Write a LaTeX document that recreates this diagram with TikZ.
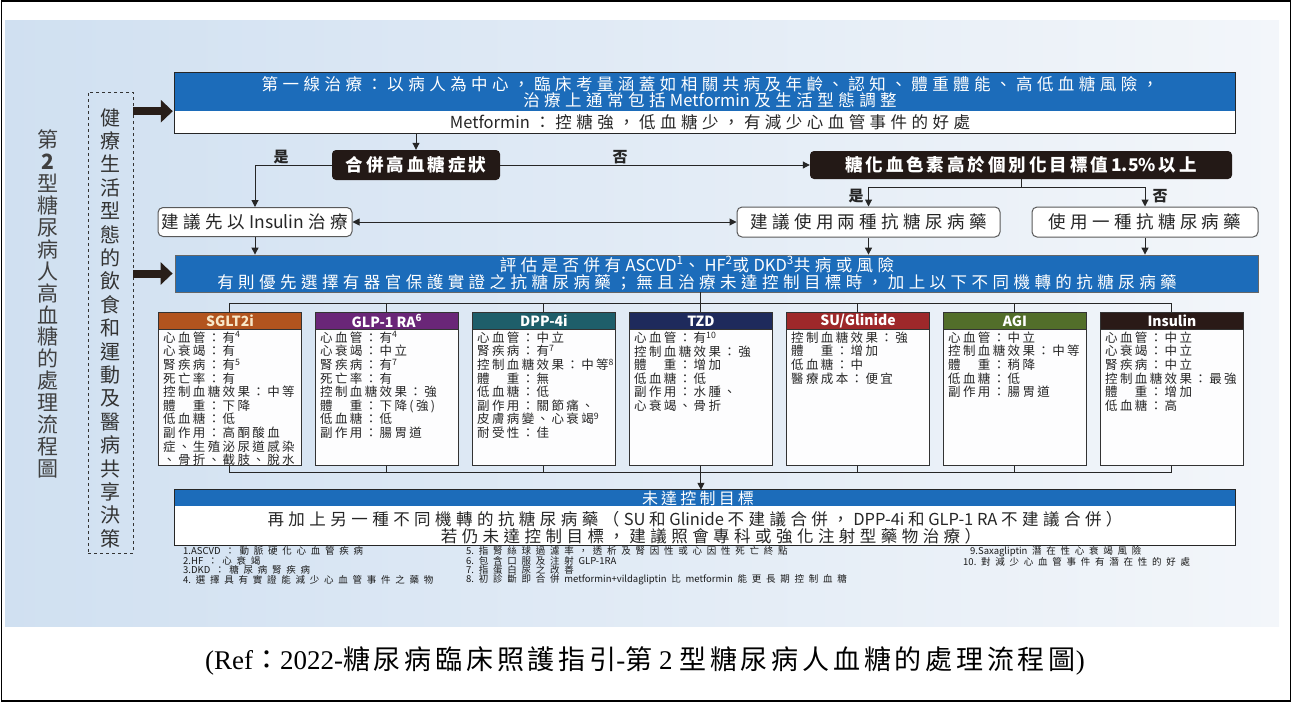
\documentclass[tikz,border=0pt]{standalone}
\usepackage{fontspec}
\setmainfont{Noto Sans CJK TC}
\newfontfamily\serifL{Liberation Serif}
\usetikzlibrary{arrows.meta,calc}
% tracking for CJK characters
\XeTeXinterchartokenstate=1
\newXeTeXintercharclass\CJKcls
\newcount\cjkcnt
\def\setcjkrange#1#2{\cjkcnt=#1\relax\loop\XeTeXcharclass\cjkcnt=\CJKcls\advance\cjkcnt by 1\relax\ifnum\cjkcnt<#2\repeat}
\setcjkrange{"3000}{"3040}
\setcjkrange{"4E00}{"A000}
\setcjkrange{"FF00}{"FF60}
\def\cjkgap{0.3}
\XeTeXinterchartoks\CJKcls\CJKcls={\hskip\cjkgap em\relax}
\XeTeXinterchartoks\CJKcls 0={\hskip\cjkgap em\relax}
\XeTeXinterchartoks 0\CJKcls={\hskip\cjkgap em\relax}

\definecolor{bluem}{RGB}{28,108,186}
\definecolor{darkb}{RGB}{35,25,22}
\definecolor{arrowc}{RGB}{40,30,25}
\definecolor{cSGLT}{RGB}{178,84,30}
\definecolor{cGLP}{RGB}{106,38,120}
\definecolor{cDPP}{RGB}{30,94,106}
\definecolor{cTZD}{RGB}{30,42,92}
\definecolor{cSU}{RGB}{158,40,42}
\definecolor{cAGI}{RGB}{82,110,42}
\definecolor{cINS}{RGB}{42,26,23}
\definecolor{bgL}{RGB}{208,224,241}
\definecolor{bgR}{RGB}{243,246,250}
\definecolor{cream}{RGB}{248,232,200}

\tikzset{
  line/.style={draw=black!85, line width=1pt},
  arr/.style={line, -{Triangle[length=7pt,width=7pt]}},
  fat/.style={draw=arrowc, line width=8pt, -{Triangle[length=12pt,width=22pt]}, shorten >=2pt},
  bigtxt/.style={inner sep=0pt, font={\def\cjkgap{0.27}\fontsize{16.5}{16.5}\selectfont}},
  darkbox/.style={fill=darkb, rounded corners=4pt, text=white, inner sep=0pt,
    font={\def\cjkgap{0.17}\bfseries\fontsize{17.5}{18}\selectfont}},
  wbox/.style={draw=black!65, fill=white, rounded corners=5pt, line width=1pt, inner sep=0pt,
    text=black!85, font={\def\cjkgap{0.25}\fontsize{17.5}{18}\selectfont}},
  lbl/.style={inner sep=0pt, text=black!85, font={\bfseries\fontsize{15}{16}\selectfont}},
  drugbody/.style={draw=black!80, fill=white!95!bgL, line width=0.9pt, inner sep=0pt,
    minimum width=143pt, minimum height=153pt},
  drughead/.style={draw=black!80, line width=0.9pt, inner sep=0pt, minimum width=143pt,
    minimum height=17pt, font={\bfseries\fontsize{14}{15}\selectfont}},
  drugtxt/.style={inner sep=0pt, align=left, text=black!85,
    font={\def\cjkgap{0.19}\fontsize{12.5}{13.6}\selectfont}},
  fn/.style={inner sep=0pt, anchor=west, text=black!90,
    font={\def\cjkgap{0.5}\fontsize{9.5}{10}\selectfont}},
}

\newcommand\drugbox[6]{%
  \node[drugbody, anchor=north west] (#1) at ({158+157*#2},312) {};
  \node[drughead, fill=#4, text=#5, anchor=north west] (#1h) at (#1.north west) {#3};
  \node[drugtxt, anchor=north west] (#1t) at ($(#1.north west)+(5,19.5)$) {#6};
}

\begin{document}
\begin{tikzpicture}[x=1pt,y=-1pt]
\useasboundingbox (0,0) rectangle (1292,702);
\shade[left color=bgL,right color=bgR] (5,20) rectangle (1279,626);
\draw[line width=1.3pt] (1.5,1) rectangle (1290.5,701);

% left vertical titles
\node[font=\fontsize{21}{21.9}\selectfont, text=black!75, align=center, inner sep=0pt] (title) at (48,304)
  {第\\\textbf{2}\\型\\糖\\尿\\病\\人\\高\\血\\糖\\的\\處\\理\\流\\程\\圖};
\node[draw=black!80, dashed, line width=0.9pt, minimum width=45pt, minimum height=461pt, inner sep=0pt] (life) at (110.5,322.5) {};
\node[font=\fontsize{20}{23.4}\selectfont, text=black!80, align=center, inner sep=0pt] (lifet) at (110.5,328)
  {健\\療\\生\\活\\型\\態\\的\\飲\\食\\和\\運\\動\\及\\醫\\病\\共\\享\\決\\策};

% top box
\node[fill=bluem, minimum width=1060pt, minimum height=38pt, inner sep=0pt] (topblue) at (705,92) {};
\node[fill=white, minimum width=1060pt, minimum height=22pt, inner sep=0pt] (topwhite) at (705,122) {};
\draw[line] (topblue.north west) rectangle (topwhite.south east);
\node[bigtxt, text=white, align=center] (toptext) at (710,92)
  {第一線治療：以病人為中心，臨床考量涵蓋如相關共病及年齡、認知、體重體能、高低血糖風險，\\治療上通常包括Metformin及生活型態調整};
\node[bigtxt, text=black!85] (mettext) at (710,122) {Metformin：控糖強，低血糖少，有減少心血管事件的好處};

% decision boxes
\node[darkbox, minimum width=168pt, minimum height=30pt] (hyper) at (416,165) {合併高血糖症狀};
\node[darkbox, minimum width=422pt, minimum height=28pt] (a1c) at (1021,165) {糖化血色素高於個別化目標值1.5\%以上};
\node[lbl] (yes1) at (281,157) {是};
\node[lbl] (no1) at (620,157) {否};
\node[wbox, minimum width=194pt, minimum height=29pt] (insf) at (255,222) {建議先以Insulin治療};
\node[wbox, minimum width=263pt, minimum height=30pt] (two) at (868.5,222) {建議使用兩種抗糖尿病藥};
\node[wbox, minimum width=226pt, minimum height=30pt] (one) at (1145,222) {使用一種抗糖尿病藥};
\node[lbl] (yes2) at (856,196) {是};
\node[lbl] (no2) at (1160,196) {否};

% second blue box
\node[fill=bluem, draw=black!60, line width=0.8pt, minimum width=1083pt, minimum height=37pt, inner sep=0pt] (blue2) at (716.5,273.5) {};
\node[bigtxt, text=white, align=center, font={\def\cjkgap{0.27}\fontsize{16.5}{17.5}\selectfont}] (b2t) at (697,273.5)
  {評估是否併有ASCVD\textsuperscript{1}、HF\textsuperscript{2}或DKD\textsuperscript{3}共病或風險\\有則優先選擇有器官保護實證之抗糖尿病藥；無且治療未達控制目標時，加上以下不同機轉的抗糖尿病藥};

% connectors upper part
\draw[arr] (topwhite.south -| hyper.north) -- (hyper.north);
\draw[arr] (hyper.west) -| (insf.north);
\draw[arr] (hyper.east) -- (a1c.west);
\draw[line] (a1c.south) -- ++(0,8) coordinate (split);
\draw[arr] (split) -| (two.north);
\draw[arr] (split) -| (one.north);
\draw[line, {Triangle[length=7pt,width=7pt]}-{Triangle[length=7pt,width=7pt]}] (insf.east) -- (two.west);
\draw[arr] (insf.south) -- (insf.south |- blue2.north);
\draw[arr] (two.south) -- (two.south |- blue2.north);
\draw[arr] (one.south) -- (one.south |- blue2.north);
\draw[fat] (life.east |- topblue.south) -- (topblue.south west);
\draw[fat] (life.east |- blue2.west) -- (blue2.west);

% drug boxes
\drugbox{sglt}{0}{SGLT2i}{cSGLT}{cream}{心血管：有\textsuperscript{4}\\心衰竭：有\\腎疾病：有\textsuperscript{5}\\死亡率：有\\控制血糖效果：中等\\體　重：下降\\低血糖：低\\副作用：高酮酸血\\症、生殖泌尿道感染\\、骨折、截肢、脫水}
\drugbox{glp}{1}{GLP-1 RA\textsuperscript{6}}{cGLP}{white}{心血管：有\textsuperscript{4}\\心衰竭：中立\\腎疾病：有\textsuperscript{7}\\死亡率：有\\控制血糖效果：強\\體　重：下降(強)\\低血糖：低\\副作用：腸胃道}
\drugbox{dpp}{2}{DPP-4i}{cDPP}{white}{心血管：中立\\腎疾病：有\textsuperscript{7}\\控制血糖效果：中等\textsuperscript{8}\\體　重：無\\低血糖：低\\副作用：關節痛、\\皮膚病變、心衰竭\textsuperscript{9}\\耐受性：佳}
\drugbox{tzd}{3}{TZD}{cTZD}{white}{心血管：有\textsuperscript{10}\\控制血糖效果：強\\體　重：增加\\低血糖：低\\副作用：水腫、\\心衰竭、骨折}
\drugbox{su}{4}{SU/Glinide}{cSU}{white}{控制血糖效果：強\\體　重：增加\\低血糖：中\\醫療成本：便宜}
\drugbox{agi}{5}{AGI}{cAGI}{white}{心血管：中立\\控制血糖效果：中等\\體　重：稍降\\低血糖：低\\副作用：腸胃道}
\drugbox{ins}{6}{Insulin}{cINS}{white}{心血管：中立\\心衰竭：中立\\腎疾病：中立\\控制血糖效果：最強\\體　重：增加\\低血糖：高}

% buses
\draw[line] (sglt.north) -- ++(0,-9) coordinate (busT) -- (busT -| ins.north) -- (ins.north);
\foreach \n in {glp,dpp,tzd,su,agi} \draw[line] (\n.north) -- (\n.north |- busT);
\draw[line] (tzd.north |- blue2.south) -- (tzd.north |- busT);
\draw[line] (sglt.south) -- ++(0,7) coordinate (busB) -- (busB -| ins.south) -- (ins.south);
\foreach \n in {glp,dpp,tzd,su,agi} \draw[line] (\n.south) -- (\n.south |- busB);

% bottom box
\node[fill=bluem, minimum width=1060pt, minimum height=16pt, inner sep=0pt] (botblue) at (705,498) {};
\node[fill=white, minimum width=1060pt, minimum height=39pt, inner sep=0pt] (botwhite) at (705,525.5) {};
\draw[line] (botblue.north west) rectangle (botwhite.south east);
\draw[arr] (tzd.south |- busB) -- (tzd.south |- botblue.north);
\node[bigtxt, text=white, font={\def\cjkgap{0.2}\fontsize{16}{16}\selectfont}] (bht) at (698,498) {未達控制目標};
\node[bigtxt, text=black!85] (bl1) at (695,519) {再加上另一種不同機轉的抗糖尿病藥（SU 和 Glinide 不建議合併，DPP-4i 和 GLP-1 RA 不建議合併）};
\node[bigtxt, text=black!85] (bl2) at (711,536) {若仍未達控制目標，建議照會專科或強化注射型藥物治療）};

% footnotes
\node[fn] (f1) at (183,551) {1.ASCVD：動脈硬化心血管疾病};
\node[fn] (f2) at (183,560.5) {2.HF：心衰竭};
\node[fn] (f3) at (183,570) {3.DKD：糖尿病腎疾病};
\node[fn] (f4) at (183,579.5) {4.選擇具有實證能減少心血管事件之藥物};
\node[fn] (f5) at (466,551) {5.指腎絲球過濾率，透析及腎因性或心因性死亡終點};
\node[fn] (f6) at (466,560.5) {6.包含口服及注射GLP-1RA};
\node[fn] (f7) at (466,570) {7.指蛋白尿之改善};
\node[fn] (f8) at (466,579.5) {8.初診斷即合併metformin+vildagliptin比metformin能更長期控制血糖};
\node[fn] (f9) at (970,552) {9.Saxagliptin潛在性心衰竭風險};
\node[fn] (f10) at (963,562) {10.對減少心血管事件有潛在性的好處};

% caption
\node[inner sep=0pt, font={\def\cjkgap{0.14}\fontsize{27}{28}\selectfont}] (cap) at (645,661)
  {{\serifL (Ref}：{\serifL 2022-}糖尿病臨床照護指引{\serifL -}第{\serifL{} 2 }型糖尿病人血糖的處理流程圖{\serifL )}};
\end{tikzpicture}
\end{document}
